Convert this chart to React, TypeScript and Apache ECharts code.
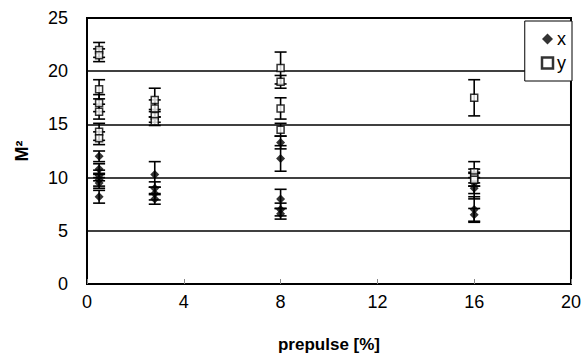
import React, { useEffect, useRef } from "react";
import * as echarts from "echarts";

// Series "x" (diamonds): prepulse [%], M², error
const xPrepulse = [0.5, 0.5, 0.5, 0.5, 0.5, 0.5, 2.8, 2.8, 2.8, 2.8, 8, 8, 8, 8, 8, 16, 16, 16, 16];
const xM2 = [12.0, 10.8, 10.2, 9.8, 9.5, 8.2, 10.3, 9.0, 8.5, 8.0, 13.3, 11.8, 8.0, 7.0, 6.6, 9.5, 9.0, 7.0, 6.5];
const xErr = [0.5, 0.5, 0.5, 0.6, 0.5, 0.6, 1.2, 0.6, 0.6, 0.5, 0.6, 1.2, 0.9, 0.6, 0.5, 1.0, 1.0, 1.2, 0.6];

// Series "y" (squares)
const yPrepulse = [0.5, 0.5, 0.5, 0.5, 0.5, 0.5, 0.5, 2.8, 2.8, 2.8, 2.8, 8, 8, 8, 8, 16, 16, 16, 16];
const yM2 = [22.0, 21.5, 18.3, 17.0, 16.2, 14.3, 13.7, 17.3, 16.5, 15.8, 15.3, 20.3, 19.0, 16.5, 14.5, 17.5, 10.5, 10.0, 9.8];
const yErr = [0.7, 0.6, 0.9, 0.8, 0.7, 0.8, 0.6, 1.1, 0.8, 0.6, 0.4, 1.5, 0.6, 1.0, 0.6, 1.7, 1.0, 0.8, 0.6];

const xTicks = [0, 4, 8, 12, 16, 20];
const yTicks = [0, 5, 10, 15, 20, 25];

const FONT = "Liberation Sans, Arial, sans-serif";

function errorBars(px: number[], py: number[], pe: number[]) {
  return px.map((x, i) => [x, py[i], pe[i]]);
}

const renderErr = (params: any, api: any) => {
  const x = api.value(0);
  const y = api.value(1);
  const e = api.value(2);
  const top = api.coord([x, y + e]);
  const bot = api.coord([x, y - e]);
  const hw = 6;
  const style = { stroke: "#000", lineWidth: 1.6 };
  return {
    type: "group",
    children: [
      { type: "line", shape: { x1: top[0], y1: top[1], x2: bot[0], y2: bot[1] }, style },
      { type: "line", shape: { x1: top[0] - hw, y1: top[1], x2: top[0] + hw, y2: top[1] }, style },
      { type: "line", shape: { x1: bot[0] - hw, y1: bot[1], x2: bot[0] + hw, y2: bot[1] }, style },
    ],
  };
};

export default function App() {
  const ref = useRef<HTMLDivElement>(null);
  useEffect(() => {
    document.body.style.margin = "0";
    if (!ref.current) return;
    const chart = echarts.init(ref.current, undefined, { renderer: "svg" });
    chart.setOption({
      animation: false,
      backgroundColor: "#fff",
      textStyle: { fontFamily: FONT },
      grid: {
        left: 87,
        right: 12,
        top: 18,
        bottom: 78,
        show: true,
        borderColor: "#000",
        borderWidth: 2,
        backgroundColor: "transparent",
      },
      legend: {
        orient: "vertical",
        right: 12,
        top: 21,
        backgroundColor: "#fff",
        borderColor: "#000",
        borderWidth: 1,
        borderRadius: 0,
        padding: [9, 6, 9, 16],
        itemGap: 6,
        itemWidth: 11,
        itemHeight: 11,
        textStyle: { fontSize: 18, color: "#000", fontFamily: FONT, padding: [0, 0, 0, -1] },
        data: [
          { name: "x", icon: "diamond", itemStyle: { color: "#000" } },
          { name: "y", icon: "rect", itemStyle: { color: "#fff", borderColor: "#000", borderWidth: 2.5 } },
        ],
      },
      xAxis: {
        type: "value",
        min: xTicks[0],
        max: xTicks[xTicks.length - 1],
        interval: 4,
        name: "prepulse [%]",
        nameLocation: "middle",
        nameGap: 52,
        nameTextStyle: { fontSize: 17, fontWeight: "bold", color: "#000", fontFamily: FONT },
        axisLine: { show: true, lineStyle: { color: "#000", width: 2 } },
        axisTick: { show: true, inside: true, length: 5, lineStyle: { color: "#888", width: 1 } },
        axisLabel: { fontSize: 18, color: "#000", margin: 9, fontFamily: FONT },
        splitLine: { show: false },
      },
      yAxis: {
        type: "value",
        min: yTicks[0],
        max: yTicks[yTicks.length - 1],
        interval: 5,
        name: "M²",
        nameLocation: "middle",
        nameGap: 56,
        nameRotate: 90,
        nameTextStyle: { fontSize: 18, fontWeight: "bold", color: "#000", fontFamily: FONT },
        axisLine: { show: true, lineStyle: { color: "#000", width: 2 } },
        axisTick: { show: false },
        axisLabel: { fontSize: 18, color: "#000", margin: 19, fontFamily: FONT },
        splitLine: { show: true, lineStyle: { color: "#000", width: 1.5 } },
      },
      series: [
        {
          name: "xerr",
          type: "custom",
          renderItem: renderErr,
          data: errorBars(xPrepulse, xM2, xErr),
          encode: { x: 0, y: 1 },
          silent: true,
          z: 2,
        },
        {
          name: "yerr",
          type: "custom",
          renderItem: renderErr,
          data: errorBars(yPrepulse, yM2, yErr),
          encode: { x: 0, y: 1 },
          silent: true,
          z: 2,
        },
        {
          name: "x",
          type: "scatter",
          symbol: "diamond",
          symbolSize: 9,
          itemStyle: { color: "#000" },
          data: xPrepulse.map((x, i) => [x, xM2[i]]),
          z: 3,
        },
        {
          name: "y",
          type: "scatter",
          symbol: "rect",
          symbolSize: 7,
          itemStyle: { color: "#fff", borderColor: "#000", borderWidth: 1.5 },
          data: yPrepulse.map((x, i) => [x, yM2[i]]),
          z: 3,
        },
      ],
    });
    return () => chart.dispose();
  }, []);
  return <div ref={ref} style={{ width: 584, height: 362 }} />;
}
